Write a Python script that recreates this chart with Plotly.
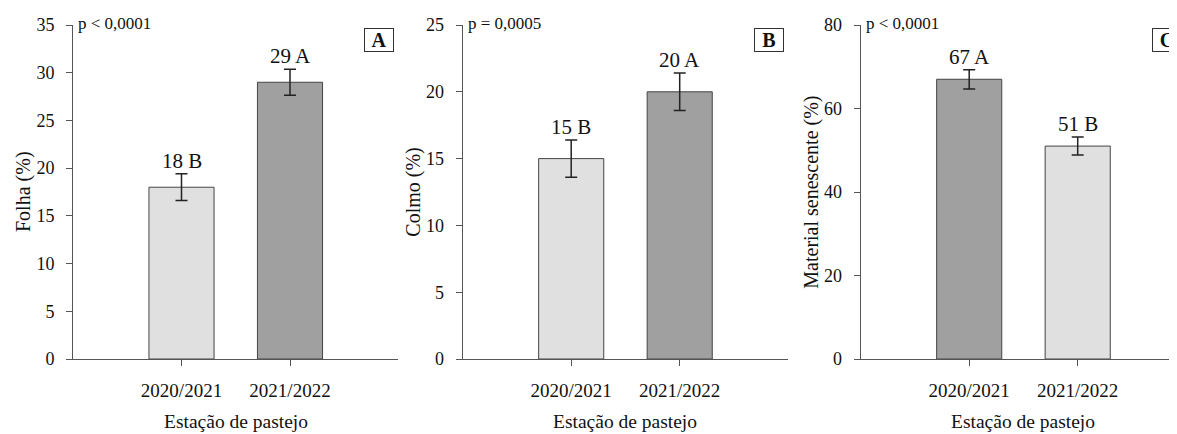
import plotly.graph_objects as go

# ---- data ----
seasons = ["2020/2021", "2021/2022"]

folha = [18, 29]
folha_se = [1.4, 1.35]
folha_letters = ["B", "A"]

colmo = [15, 20]
colmo_se = [1.4, 1.4]
colmo_letters = ["B", "A"]

senescente = [67, 51]
senescente_se = [2.3, 2.15]
senescente_letters = ["A", "B"]

p_values = ["p < 0,0001", "p = 0,0005", "p < 0,0001"]
panel_labels = ["A", "B", "C"]
y_titles = ["Folha (%)", "Colmo (%)", "Material senescente (%)"]
x_title = "Estação de pastejo"
y_max = [35, 25, 80]
y_dtick = [5, 5, 20]

# ---- styling ----
W, H = 1177, 434          # browser window
OFF = 8                   # default page body margin
FW, FH = W - OFF, H - OFF  # figure size so it fits the window exactly
FONT = "Liberation Serif, Times New Roman, serif"
TXT = "#111111"
AXC = "#555555"
LIGHT = "#e0e0e0"
DARK = "#a0a0a0"
EDGE = "#444444"
letter_color = {"A": DARK, "B": LIGHT}

values = [folha, colmo, senescente]
ses = [folha_se, colmo_se, senescente_se]
letters = [folha_letters, colmo_letters, senescente_letters]

# pixel layout (window pixels) of the three panels; y measured from top
x_px = [(73, 398), (462.7, 788), (860.7, 1177)]
full_width = 325.5  # full (uncropped) axis width in px
y_top, y_bot = 25, 359


def px_x(p):
    return (p - OFF) / FW


def px_y(p):
    return 1 - (p - OFF) / FH


fig = go.Figure()
annotations = []

for i in range(3):
    xa = "x" if i == 0 else f"x{i+1}"
    ya = "y" if i == 0 else f"y{i+1}"
    xl, xr = x_px[i]
    unit = full_width / 3.0
    rmax = -1 + (xr - xl) / unit

    fig.add_trace(go.Bar(
        x=seasons, y=values[i],
        xaxis=xa, yaxis=ya,
        width=0.6,
        marker=dict(color=[letter_color[l] for l in letters[i]],
                    line=dict(color=EDGE, width=1)),
        error_y=dict(type="data", array=ses[i], visible=True,
                     thickness=1.5, width=6, color="#222222"),
        showlegend=False, hoverinfo="skip",
    ))

    axis_common = dict(showline=True, linecolor=AXC, linewidth=1,
                       ticks="outside", ticklen=6, tickcolor=AXC,
                       showgrid=False, zeroline=False, automargin=False)
    fig.layout[("xaxis" if i == 0 else f"xaxis{i+1}")] = dict(
        axis_common, domain=[px_x(xl), min(1, px_x(xr))], anchor=ya,
        type="category", range=[-1, rmax], ticklabelstandoff=8,
        tickfont=dict(family=FONT, size=19, color=TXT))
    fig.layout[("yaxis" if i == 0 else f"yaxis{i+1}")] = dict(
        axis_common, domain=[px_y(y_bot), px_y(y_top)], anchor=xa,
        range=[0, y_max[i]], dtick=y_dtick[i], ticklabelstandoff=8,
        tickfont=dict(family=FONT, size=18, color=TXT))

    # value + letter labels above error bars
    for s, v, e, l in zip(seasons, values[i], ses[i], letters[i]):
        annotations.append(dict(
            x=s, y=v + e, xref=xa, yref=ya, text=f"{v} {l}",
            showarrow=False, yanchor="bottom", yshift=-1,
            font=dict(family=FONT, size=21, color=TXT)))

    # p-value
    annotations.append(dict(
        x=px_x(xl + 3), y=px_y(24), xref="paper", yref="paper",
        text=p_values[i], showarrow=False, xanchor="left", yanchor="middle",
        font=dict(family=FONT, size=17, color=TXT)))

    # panel letter box
    annotations.append(dict(
        x=px_x(xl + 291), y=px_y(40), xref="paper", yref="paper",
        text=f"<b>{panel_labels[i]}</b>", showarrow=False,
        xanchor="left", yanchor="middle", width=28, height=22,
        borderpad=0, borderwidth=1, bordercolor="#333333", bgcolor="white",
        font=dict(family=FONT, size=20, color=TXT)))

    # y title
    annotations.append(dict(
        x=px_x(xl - 50), y=px_y((y_top + y_bot) / 2), xref="paper", yref="paper",
        text=y_titles[i], showarrow=False, textangle=-90,
        xanchor="center", yanchor="middle",
        font=dict(family=FONT, size=20, color=TXT)))

    # x title (centered on full axis)
    annotations.append(dict(
        x=px_x(xl + full_width / 2), y=px_y(421), xref="paper", yref="paper",
        text=x_title, showarrow=False, xanchor="center", yanchor="middle",
        font=dict(family=FONT, size=19.5, color=TXT)))

fig.update_layout(
    template="none",
    width=FW, height=FH,
    margin=dict(l=0, r=0, t=0, b=0, autoexpand=False),
    paper_bgcolor="white", plot_bgcolor="white",
    annotations=annotations,
    bargap=0.4,
)

fig.write_html("out.html")
